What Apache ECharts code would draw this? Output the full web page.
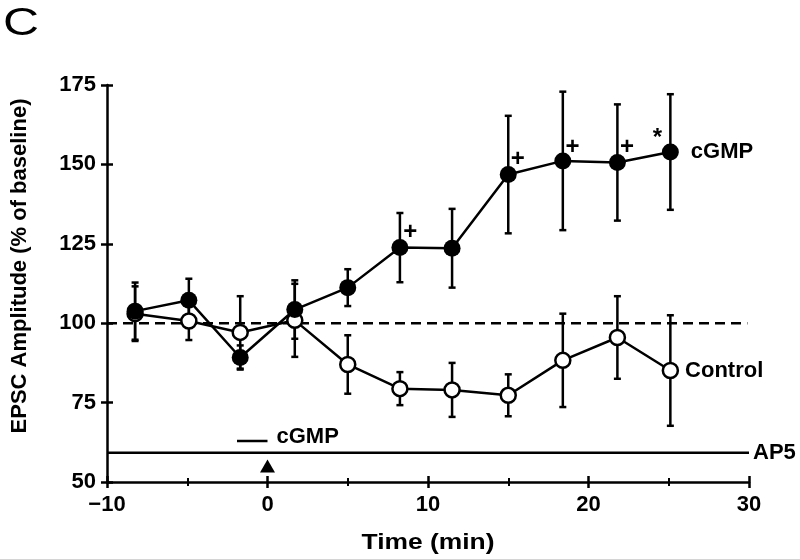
<!DOCTYPE html>
<html>
<head>
<meta charset="utf-8">
<script src="https://cdn.jsdelivr.net/npm/echarts@6/dist/echarts.min.js"></script>
<style>
html,body{margin:0;padding:0;background:#fff;}
#chart{width:800px;height:559px;}
</style>
</head>
<body>
<div id="chart"></div>
<script>
// ---- data ----
const times = [-8.25, -4.9, -1.7, 1.7, 5.0, 8.25, 11.5, 15.0, 18.4, 21.8, 25.1];
const cgmpMean = [103.8, 107.2, 89.2, 104.3, 111.2, 123.8, 123.6, 146.8, 151.1, 150.6, 153.9];
const cgmpErr  = [9.0, 6.8, 3.8, 9.2, 5.8, 10.9, 12.4, 18.5, 21.8, 18.3, 18.2];
const controlMean = [103.0, 100.7, 97.1, 100.9, 87.0, 79.4, 79.0, 77.3, 88.3, 95.5, 85.1];
const controlErr  = [8.6, 6.0, 11.4, 11.5, 9.2, 5.2, 8.5, 6.6, 14.7, 13.0, 17.4];
const baseline = 100;
const ap5Level = 59.2;
const cgmpBarLevel = 62.9;
const cgmpBarTimes = [-1.9, 0];
const arrowPoint = [0, 55];
const markTexts = ['+', '+', '+', '+', '*'];
const markPos = [[8.9, 128.7], [15.6, 151.6], [19.0, 155.5], [22.4, 155.3], [24.3, 158.3]];
const xTicks = [-10, 0, 10, 20, 30];
const yTicks = [50, 75, 100, 125, 150, 175];

const FONT = 'Liberation Sans, Arial, Helvetica, sans-serif';
const chart = echarts.init(document.getElementById('chart'), null, {renderer: 'canvas'});

function errData(m, e) { return times.map((t, i) => [t, m[i] - e[i], m[i] + e[i]]); }

function renderErr(params, api) {
  const x = api.value(0), lo = api.value(1), hi = api.value(2);
  const a = api.coord([x, hi]), b = api.coord([x, lo]);
  const w = 3.5;
  const st = {stroke: '#000', lineWidth: 2.5, fill: null};
  return {type: 'group', children: [
    {type: 'line', shape: {x1: a[0], y1: a[1], x2: b[0], y2: b[1]}, style: st},
    {type: 'line', shape: {x1: a[0] - w, y1: a[1], x2: a[0] + w, y2: a[1]}, style: st},
    {type: 'line', shape: {x1: b[0] - w, y1: b[1], x2: b[0] + w, y2: b[1]}, style: st}
  ]};
}

const xMin = xTicks[0], xMax = xTicks[xTicks.length - 1];
const yMin = yTicks[0], yMax = yTicks[yTicks.length - 1];
const labelStyle = {color: '#000', fontSize: 22, fontWeight: 'bold', fontFamily: FONT};

const option = {
  backgroundColor: '#fff',
  animation: false,
  grid: {left: 107, right: 51, top: 85, bottom: 77},
  xAxis: [{
    type: 'value', min: xMin, max: xMax, interval: 10,
    axisLine: {onZero: false, lineStyle: {color: '#000', width: 2.5}},
    axisTick: {show: true, length: 6, lineStyle: {color: '#000', width: 2.5}},
    minorTick: {show: true, splitNumber: 2, length: 4, lineStyle: {color: '#000', width: 2}},
    splitLine: {show: false}, minorSplitLine: {show: false},
    axisLabel: Object.assign({margin: 12, formatter: v => String(v).replace('-', '\u2212')}, labelStyle)
  }, {
    type: 'value', min: xMin, max: xMax, interval: 10, position: 'bottom',
    axisLine: {show: false, onZero: false},
    axisTick: {show: true, inside: true, length: 6, lineStyle: {color: '#000', width: 2.5}},
    minorTick: {show: true, splitNumber: 2, length: 4, lineStyle: {color: '#000', width: 2}},
    splitLine: {show: false}, axisLabel: {show: false}
  }],
  yAxis: [{
    type: 'value', min: yMin, max: yMax, interval: 25,
    axisLine: {show: true, onZero: false, lineStyle: {color: '#000', width: 2.5}},
    axisTick: {show: true, length: 6, lineStyle: {color: '#000', width: 2.5}},
    splitLine: {show: false},
    axisLabel: Object.assign({margin: 11}, labelStyle)
  }, {
    type: 'value', min: yMin, max: yMax, interval: 25, position: 'left',
    axisLine: {show: false, onZero: false},
    axisTick: {show: true, inside: true, length: 6, lineStyle: {color: '#000', width: 2.5}},
    splitLine: {show: false}, axisLabel: {show: false}
  }],
  graphic: [
    {type: 'text', x: 3, y: 24, scaleX: 1.28,
      style: {text: 'C', fontSize: 39, fontFamily: FONT, fill: '#000', align: 'left', verticalAlign: 'middle'}},
    {type: 'text', x: 20, y: 266, rotation: Math.PI / 2,
      style: {text: 'EPSC Amplitude (% of baseline)', fontSize: 22, fontWeight: 'bold',
        fontFamily: FONT, fill: '#000', align: 'center', verticalAlign: 'middle'}},
    {type: 'text', x: 428, y: 543, scaleX: 1.2,
      style: {text: 'Time (min)', fontSize: 22, fontWeight: 'bold', fontFamily: FONT, fill: '#000',
        align: 'center', verticalAlign: 'middle'}}
  ],
  series: [
    {type: 'line', data: [[xMin, baseline], [29.9, baseline]], symbol: 'none', silent: true,
      lineStyle: {color: '#000', width: 2.5, type: [10, 6]}, z: 1},
    {type: 'line', data: [[xMin, ap5Level], [xMax, ap5Level]], symbol: 'none', silent: true,
      lineStyle: {color: '#000', width: 2.5}, z: 1,
      endLabel: Object.assign({show: true, formatter: 'AP5', distance: 4}, labelStyle)},
    {type: 'line', data: cgmpBarTimes.map(t => [t, cgmpBarLevel]), symbol: 'none', silent: true,
      lineStyle: {color: '#000', width: 2.5}, z: 1,
      endLabel: Object.assign({show: true, formatter: 'cGMP', distance: 9, offset: [0, -4]}, labelStyle)},
    {type: 'scatter', data: [arrowPoint], symbol: 'triangle', symbolSize: [15, 13],
      itemStyle: {color: '#000', opacity: 1}, silent: true, z: 3},
    {type: 'custom', data: errData(controlMean, controlErr), renderItem: renderErr, z: 2, silent: true},
    {type: 'custom', data: errData(cgmpMean, cgmpErr), renderItem: renderErr, z: 2, silent: true},
    {type: 'line', name: 'Control', z: 4,
      data: times.map((t, i) => ({value: [t, controlMean[i]],
        label: i === times.length - 1 ? Object.assign({show: true, position: 'right', distance: 6, formatter: 'Control'}, labelStyle) : {show: false}})),
      symbol: 'circle', symbolSize: 15, showAllSymbol: true,
      itemStyle: {color: '#fff', borderColor: '#000', borderWidth: 2.5, opacity: 1},
      lineStyle: {color: '#000', width: 2.5}},
    {type: 'line', name: 'cGMP', z: 5,
      data: times.map((t, i) => ({value: [t, cgmpMean[i]],
        label: i === times.length - 1 ? Object.assign({show: true, position: 'right', distance: 12, formatter: 'cGMP'}, labelStyle) : {show: false}})),
      symbol: 'circle', symbolSize: 17, showAllSymbol: true,
      itemStyle: {color: '#000', borderColor: '#000', borderWidth: 0, opacity: 1},
      lineStyle: {color: '#000', width: 2.5}},
    {type: 'scatter', z: 6, silent: true, symbolSize: 0,
      itemStyle: {color: '#000', opacity: 1},
      data: markPos.map((p, i) => ({value: p, name: markTexts[i]})),
      label: {show: true, position: 'inside', formatter: p => p.name, color: '#000',
        fontSize: 24, fontWeight: 'bold', fontFamily: FONT}}
  ]
};
chart.setOption(option);
</script>
</body>
</html>
